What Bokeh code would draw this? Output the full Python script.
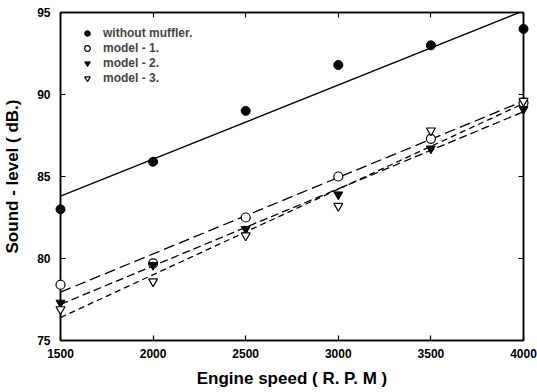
from bokeh.plotting import figure
from bokeh.models import Range1d, LinearAxis, FixedTicker, Legend, LegendItem
from bokeh.embed import file_html
from bokeh.resources import INLINE

# ---- data ----
rpm = [1500, 2000, 2500, 3000, 3500, 4000]
without_muffler = [83.0, 85.9, 89.0, 91.8, 93.0, 94.0]
model_1 = [78.4, 79.7, 82.5, 85.0, 87.3, 89.5]
model_2 = [77.3, 79.6, 81.8, 83.9, 86.7, 89.1]
model_3 = [76.9, 78.6, 81.4, 83.2, 87.8, 89.6]

# fitted straight lines (end values)
fit_x = [1500, 4000]
fit_without = [83.8, 95.1]
fit_m1 = [77.95, 89.6]
fit_m2 = [77.2, 88.95]
fit_m3 = [76.4, 89.45]

x_ticks = [1500, 2000, 2500, 3000, 3500, 4000]
y_ticks = [75, 80, 85, 90, 95]

FONT = "Liberation Sans"

p = figure(width=537, height=392, output_backend="svg", toolbar_location=None,
           x_range=Range1d(1500, 4000), y_range=Range1d(75, 95),
           min_border_left=60, min_border_right=14, min_border_top=12, min_border_bottom=52)
p.grid.visible = False
p.background_fill_color = "white"
p.border_fill_color = "white"
p.outline_line_color = "black"
p.outline_line_width = 1.5

def style_axis(ax, ticks, show_labels=True):
    ax.axis_line_color = "black"
    ax.axis_line_width = 1.5
    if show_labels:
        ax.ticker = FixedTicker(ticks=ticks)
        ax.major_tick_in = 5
        ax.major_tick_out = 0
        ax.minor_tick_in = 0
        ax.minor_tick_out = 0
        ax.major_tick_line_width = 1.2
        ax.major_tick_line_color = "black"
        ax.major_label_text_font = FONT
        ax.major_label_text_font_style = "bold"
        ax.major_label_text_color = "black"
        ax.major_label_text_font_size = "12px"
    else:
        # mirrored ticks without labels: draw them as minor ticks only
        ax.ticker = FixedTicker(ticks=[], minor_ticks=ticks)
        ax.major_tick_in = 0
        ax.major_tick_out = 0
        ax.minor_tick_in = 5
        ax.minor_tick_out = 0
        ax.minor_tick_line_width = 1.2
        ax.minor_tick_line_color = "black"

style_axis(p.xaxis[0], x_ticks)
style_axis(p.yaxis[0], y_ticks)
p.xaxis[0].major_label_standoff = 8
p.yaxis[0].major_label_standoff = 10
p.xaxis[0].axis_label = "Engine speed ( R. P. M )"
p.yaxis[0].axis_label = "Sound - level ( dB.)"
for ax in (p.xaxis[0], p.yaxis[0]):
    ax.axis_label_text_font = FONT
    ax.axis_label_text_font_style = "bold"
    ax.axis_label_text_font_size = "17px"
    ax.axis_label_text_color = "black"
p.xaxis[0].axis_label_standoff = 8
p.yaxis[0].axis_label_standoff = 12

top = LinearAxis()
style_axis(top, x_ticks, show_labels=False)
p.add_layout(top, "above")
right = LinearAxis()
style_axis(right, y_ticks, show_labels=False)
p.add_layout(right, "right")

# lines
p.line(fit_x, fit_without, line_color="black", line_width=1.3)
p.line(fit_x, fit_m1, line_color="black", line_width=1.3, line_dash="11 5")
p.line(fit_x, fit_m2, line_color="black", line_width=1.3, line_dash="8 4")
p.line(fit_x, fit_m3, line_color="black", line_width=1.3, line_dash="6 4")

# markers (overlay level so the edge points are not clipped by the frame)
r0 = p.scatter(rpm, without_muffler, marker="circle", size=9, fill_color="black",
               line_color="black", level="overlay")
r1 = p.scatter(rpm, model_1, marker="circle", size=9, fill_color="white",
               line_color="black", line_width=1.2, level="overlay")
r2 = p.scatter(rpm, model_2, marker="inverted_triangle", size=9, fill_color="black",
               line_color="black", level="overlay")
r3 = p.scatter(rpm, model_3, marker="inverted_triangle", size=9, fill_color="white",
               line_color="black", line_width=1.2, level="overlay")

legend = Legend(items=[
    LegendItem(label="without muffler.", renderers=[r0]),
    LegendItem(label="model - 1.", renderers=[r1]),
    LegendItem(label="model - 2.", renderers=[r2]),
    LegendItem(label="model - 3.", renderers=[r3]),
], location=(17, 255))
legend.padding = 0
legend.margin = 0
legend.spacing = 1
legend.glyph_width = 20
legend.glyph_height = 14
legend.label_height = 14
legend.label_standoff = 6
legend.label_text_font = FONT
legend.label_text_font_style = "bold"
legend.label_text_font_size = "12px"
legend.border_line_color = None
legend.background_fill_alpha = 0
p.add_layout(legend, "center")

open("out.html", "w").write(file_html(p, INLINE))
